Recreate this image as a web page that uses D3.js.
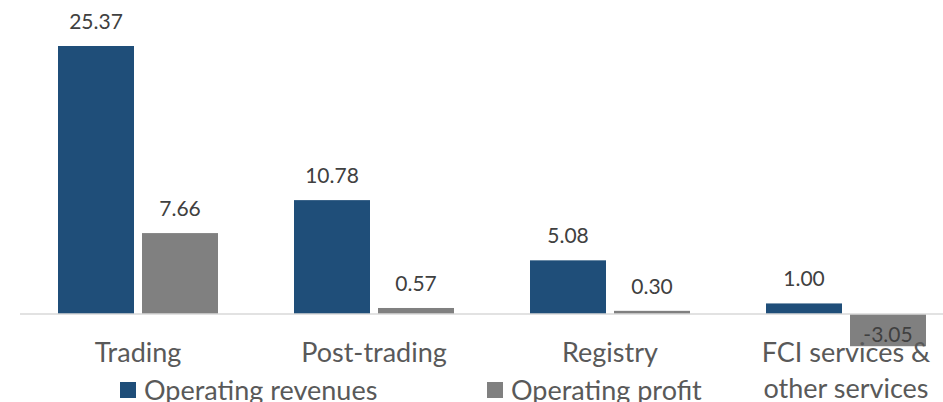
<!DOCTYPE html>
<html>
<head>
<meta charset="utf-8">
<script src="https://cdn.jsdelivr.net/npm/d3@7"></script>
<style>
  body { margin: 0; background: #fff; }
  svg text { font-family: Lato, "Open Sans", sans-serif; }
</style>
</head>
<body>
<div id="chart"></div>
<script>
// categories and the two series
var categories = ["Trading", "Post-trading", "Registry", "FCI services & other services"];
var categoryLines = [["Trading"], ["Post-trading"], ["Registry"], ["FCI services &", "other services"]];
var seriesNames = ["Operating revenues", "Operating profit"];
var revenues = [25.37, 10.78, 5.08, 1.00];
var profits = [7.66, 0.57, 0.30, -3.05];
var colors = ["#1F4E79", "#808080"];

var w = 943, h = 402;

var svg = d3.select("#chart")
    .append("svg")
    .attr("width", w)
    .attr("height", h);

// outer band = category group, inner band = series
var x0 = d3.scaleBand()
    .domain(categories)
    .range([20, 964])
    .paddingInner(76 / 236)
    .paddingOuter(38 / 236);

var x1 = d3.scaleBand()
    .domain(seriesNames)
    .range([0, x0.bandwidth()])
    .paddingInner(8 / 84);

var y = d3.scaleLinear()
    .domain([0, 25.37])
    .range([314, 46]);

var color = d3.scaleOrdinal().domain(seriesNames).range(colors);

// build rows for drawing
var rows = [];
for (var i = 0; i < categories.length; i++) {
    rows.push({ cat: categories[i], series: seriesNames[0], value: revenues[i] });
    rows.push({ cat: categories[i], series: seriesNames[1], value: profits[i] });
}

// bars
svg.selectAll("rect.bar")
    .data(rows)
    .enter()
    .append("rect")
    .attr("class", "bar")
    .attr("x", function (d) { return x0(d.cat) + x1(d.series); })
    .attr("y", function (d) { return Math.min(y(d.value), y(0)); })
    .attr("width", x1.bandwidth())
    .attr("height", function (d) { return Math.abs(y(d.value) - y(0)); })
    .style("fill", function (d) { return color(d.series); });

// zero line
svg.append("line")
    .attr("x1", 20)
    .attr("x2", w)
    .attr("y1", y(0))
    .attr("y2", y(0))
    .style("stroke", "#D9D9D9")
    .style("stroke-width", 1.5);

// value labels
svg.selectAll("text.val")
    .data(rows)
    .enter()
    .append("text")
    .attr("class", "val")
    .attr("x", function (d) { return x0(d.cat) + x1(d.series) + x1.bandwidth() / 2; })
    .attr("y", function (d) { return d.value >= 0 ? y(d.value) - 17 : y(d.value) - 4; })
    .attr("text-anchor", "middle")
    .style("font-size", "21px")
    .style("fill", "#404040")
    .text(function (d) { return d.value.toFixed(2); });

// category labels (last one wraps on two lines)
var cats = svg.selectAll("text.cat")
    .data(categories)
    .enter()
    .append("text")
    .attr("class", "cat")
    .attr("text-anchor", "middle")
    .attr("x", function (d) { return x0(d) + x0.bandwidth() / 2; })
    .attr("y", 362)
    .style("font-size", "27px")
    .style("fill", "#595959");

cats.each(function (d, i) {
    var t = d3.select(this);
    categoryLines[i].forEach(function (line, k) {
        t.append("tspan")
            .attr("x", x0(d) + x0.bandwidth() / 2)
            .attr("dy", k === 0 ? 0 : 36)
            .text(line);
    });
});

// legend
var legendX = [120, 487];
var legend = svg.selectAll("g.legend")
    .data(seriesNames)
    .enter()
    .append("g")
    .attr("class", "legend")
    .attr("transform", function (d, i) { return "translate(" + legendX[i] + ",382)"; });

legend.append("rect")
    .attr("width", 16)
    .attr("height", 16)
    .style("fill", function (d) { return color(d); });

legend.append("text")
    .attr("x", 24)
    .attr("y", 18)
    .style("font-size", "27px")
    .style("fill", "#595959")
    .text(function (d) { return d; });
</script>
</body>
</html>
